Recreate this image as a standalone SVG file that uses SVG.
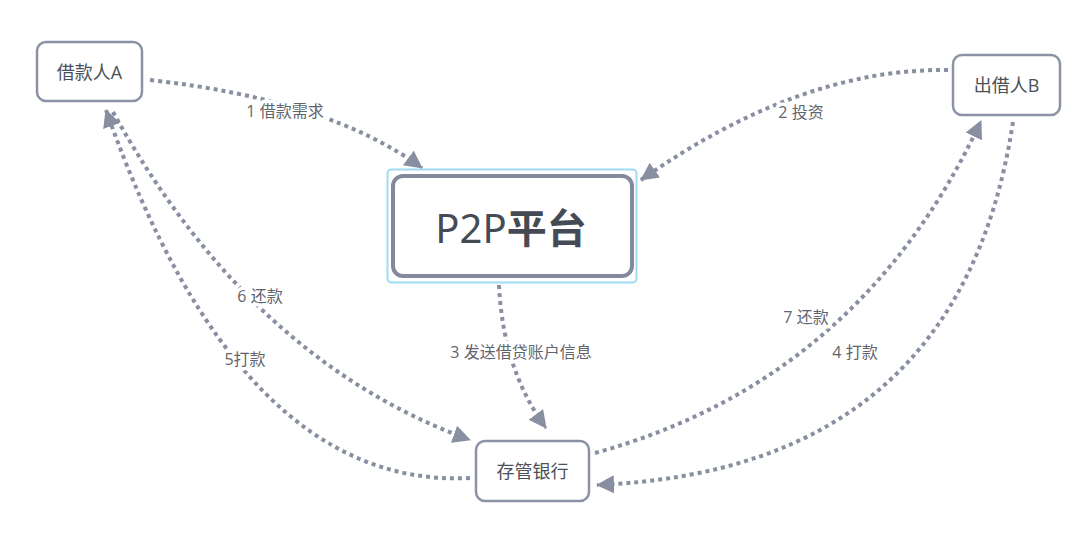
<svg xmlns="http://www.w3.org/2000/svg" width="1080" height="545" viewBox="0 0 1080 545">
<defs>
<style>
.node{fill:#fff;stroke:#8a92a3;stroke-width:2.5}
.nt{font-family:"Open Sans","Noto Sans CJK SC",sans-serif;font-size:18px;fill:#4b505a;text-anchor:middle;dominant-baseline:central}
.c{fill:none;stroke:#878fa1;stroke-width:4;stroke-dasharray:4 4;marker-end:url(#ah)}
.lb{font-family:"Open Sans","Noto Sans CJK SC",sans-serif;font-size:16px;fill:#5f646d;text-anchor:middle;dominant-baseline:central;paint-order:stroke;stroke:#fff;stroke-width:7;stroke-linejoin:round}
</style>
<marker id="ah" markerUnits="userSpaceOnUse" markerWidth="20" markerHeight="20" refX="17" refY="9" orient="auto">
<path d="M0,0 L18,9 L0,18 Z" fill="#878fa1"/>
</marker>
</defs>
<rect width="1080" height="545" fill="#fff"/>
<g id="connectors">
<path class="c" d="M150,80 Q330,100 422,168"/>
<path class="c" d="M948,70 Q800,68 641,180"/>
<path class="c" d="M499,285 Q503,370 546,428"/>
<path class="c" d="M113,112 Q250,360 470,440"/>
<path class="c" d="M470,478 Q240,490 106,110"/>
<path class="c" d="M595,453 Q860,380 981,121"/>
<path class="c" d="M1013,122 Q960,470 597,485"/>
<text class="lb" x="285" y="111">1 借款需求</text>
<text class="lb" x="801" y="112">2 投资</text>
<text class="lb" x="521" y="352">3 发送借贷账户信息</text>
<text class="lb" x="260" y="296">6 还款</text>
<text class="lb" x="245" y="359">5打款</text>
<text class="lb" x="806" y="317">7 还款</text>
<text class="lb" x="855" y="352">4 打款</text>
</g>
<g id="borrowerA">
<rect class="node" x="37" y="42" width="105" height="59" rx="9"/>
<text class="nt" x="89.5" y="71.5">借款人A</text>
</g>
<g id="lenderB">
<rect class="node" x="953" y="55" width="107" height="60" rx="9"/>
<text class="nt" x="1006.5" y="85">出借人B</text>
</g>
<g id="platform">
<rect x="387.5" y="169.5" width="249" height="113" rx="4" fill="none" stroke="#9fdcf3" stroke-width="2"/>
<rect x="393" y="176" width="239" height="100" rx="10" fill="#fff" stroke="#838a9b" stroke-width="4"/>
<text x="511" y="227" font-family="'Noto Sans','Noto Sans CJK SC',sans-serif" font-size="40" fill="#454b55" text-anchor="middle" dominant-baseline="central">P2P<tspan font-weight="bold">平台</tspan></text>
</g>
<g id="bank">
<rect class="node" x="476" y="441" width="113" height="60" rx="9"/>
<text class="nt" x="532.5" y="470.5">存管银行</text>
</g>
</svg>
